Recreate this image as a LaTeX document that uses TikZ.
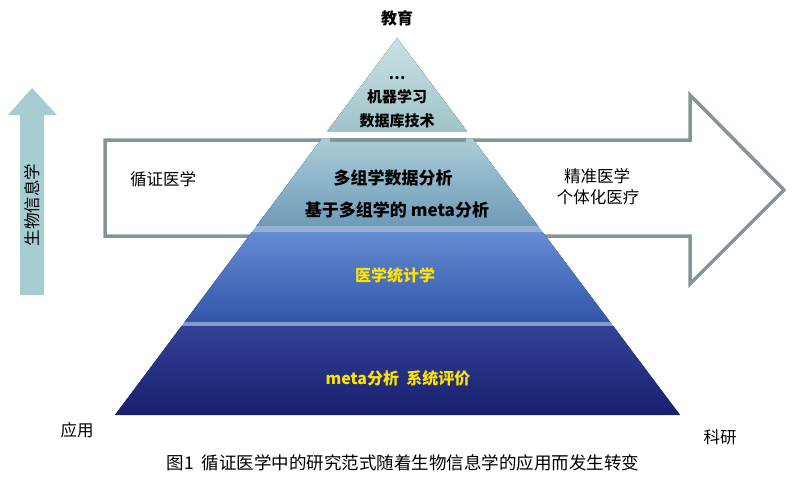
\documentclass[tikz,border=0pt]{standalone}
\usepackage{fontspec}
\setmainfont{Noto Sans CJK SC}
\definecolor{lt1}{RGB}{200,225,228}
\definecolor{lt2}{RGB}{160,196,202}
\definecolor{l2a}{RGB}{170,205,215}
\definecolor{l2b}{RGB}{110,155,185}
\definecolor{l3a}{RGB}{100,140,210}
\definecolor{l3b}{RGB}{50,85,170}
\definecolor{l4a}{RGB}{50,65,150}
\definecolor{l4b}{RGB}{25,32,110}
\definecolor{sep}{RGB}{150,175,215}
\definecolor{tealarr}{RGB}{165,205,210}
\definecolor{arrline}{RGB}{130,150,152}
\begin{document}
\begin{tikzpicture}[x=1pt,y=-1pt,
  lbl/.style={font=\fontsize{15}{17}\selectfont\bfseries,text=black},
  mlbl/.style={font=\fontsize{16.5}{18}\selectfont,text=black},
  ylbl/.style={font=\fontsize{16}{18}\selectfont\bfseries,text=yellow!85!orange}]
\useasboundingbox (0,0) rectangle (800,487);
% left arrow
\fill[tealarr] (20,295) -- (20,115) -- (8,115) -- (32,88) -- (57,115) -- (44,115) -- (44,295) -- cycle;
\node[rotate=90,mlbl] (bio) at (32,205) {生物信息学};
% big arrow
\draw[line width=3.5pt,draw=arrline,fill=white] (105,140) -- (690,140) -- (690,95) -- (784,190) -- (690,284) -- (690,236) -- (105,236) -- cycle;
% pyramid
\begin{scope}
\clip (397,38) -- (680,415) -- (115,415) -- cycle;
\fill[top color=lt1,bottom color=lt2] (100,38) rectangle (700,131);
\fill[top color=l2a,bottom color=l2b] (100,139) rectangle (700,226);
\fill[sep] (100,226) rectangle (700,232);
\fill[top color=l3a,bottom color=l3b] (100,232) rectangle (700,322);
\fill[sep!80!l4a] (100,322) rectangle (700,326);
\fill[top color=l4a,bottom color=l4b] (100,326) rectangle (700,415);
\end{scope}
\draw[line width=3.5pt,draw=arrline] (330,140) -- (466,140);
% texts
\node[lbl] (dots) at (397,78) {…};
\node[lbl] (ml) at (397,97) {机器学习};
\node[lbl] (db) at (397,121) {数据库技术};
\node[lbl,font=\fontsize{17}{19}\selectfont\bfseries] (omics) at (393,178) {多组学数据分析};
\node[lbl,font=\fontsize{17}{19}\selectfont\bfseries] (meta1) at (397,210) {基于多组学的 meta分析};
\node[ylbl] (stat) at (395,275) {医学统计学};
\node[ylbl] (meta2) at (398,378) {meta分析\ \ 系统评价};
\node[mlbl] (ebm) at (163,179) {循证医学};
\node[mlbl] (pm) at (597,176) {精准医学};
\node[mlbl] (pers) at (598,197) {个体化医疗};
\node[lbl,font=\fontsize{16}{18}\selectfont\bfseries] (edu) at (397,18) {教育};
\node[mlbl] (app) at (77,430) {应用};
\node[mlbl] (res) at (720,437) {科研};
\node[font=\fontsize{17.5}{19}\selectfont] (cap) at (403,463) {图1\ \ 循证医学中的研究范式随着生物信息学的应用而发生转变};
\end{tikzpicture}
\end{document}
